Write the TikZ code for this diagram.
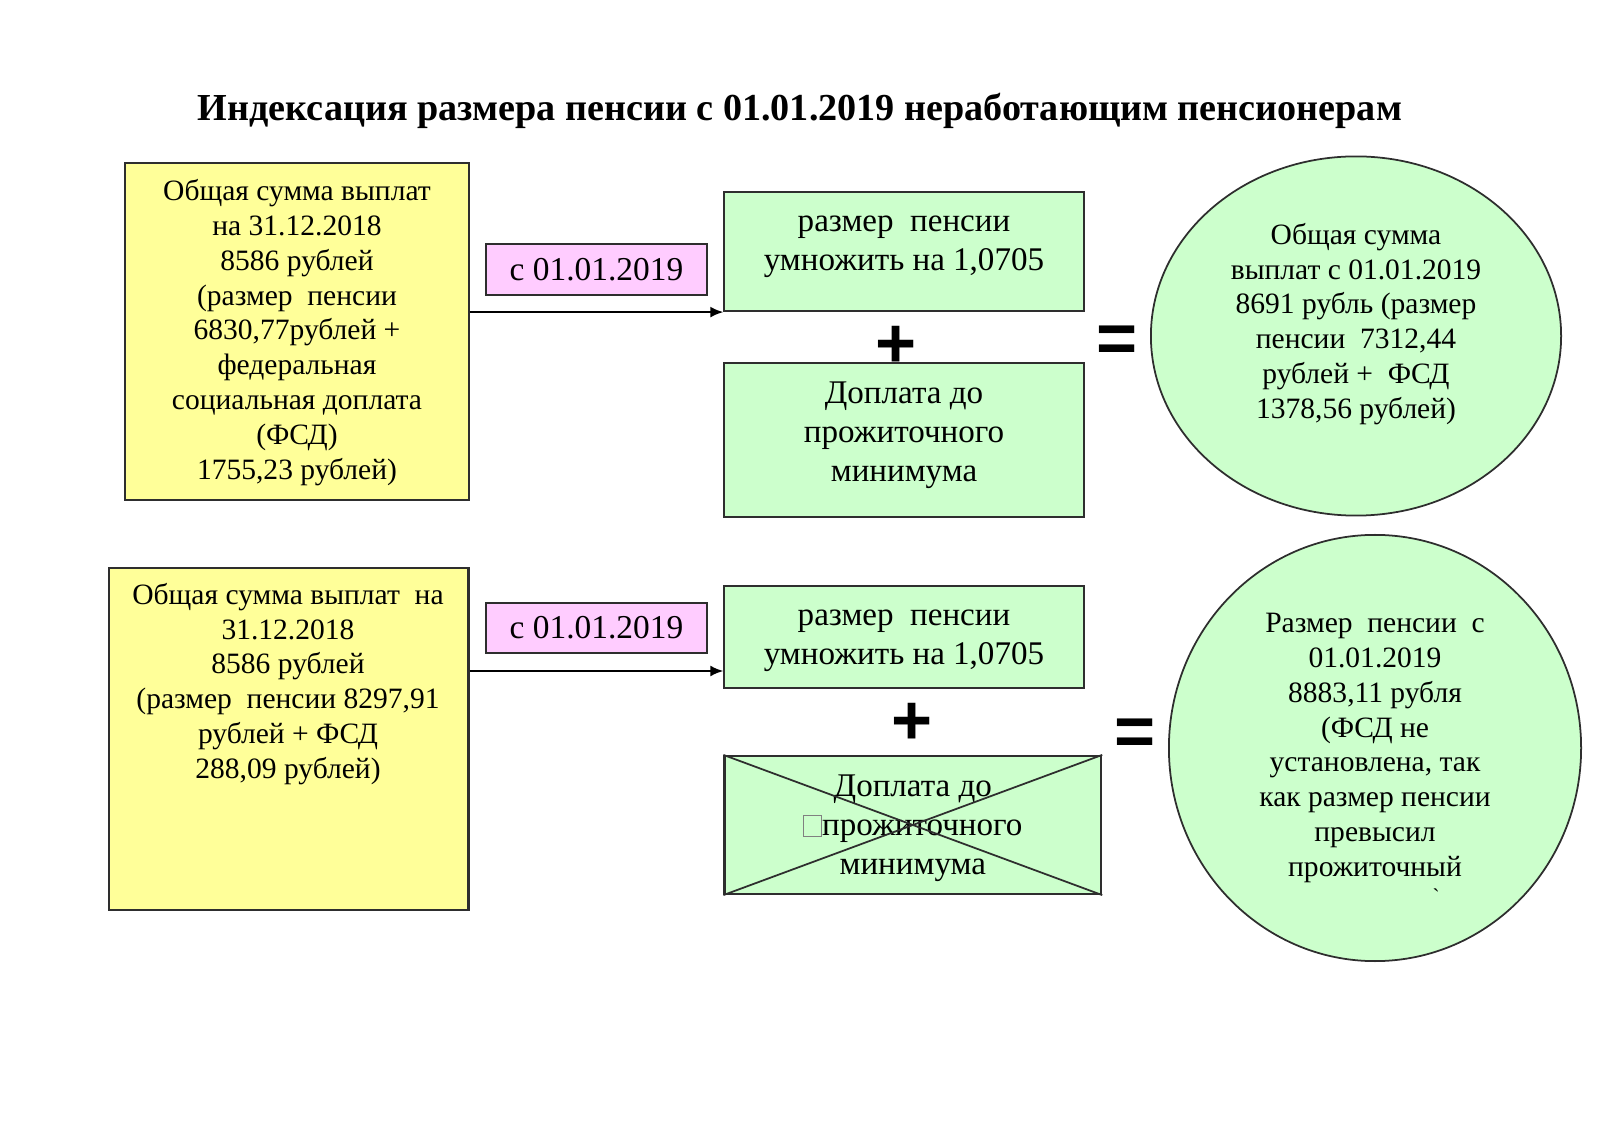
\documentclass[tikz,border=0pt]{standalone}
\usepackage{fontspec}
\setmainfont{Liberation Serif}
\newfontfamily\signfont{Liberation Sans}
\usetikzlibrary{positioning}
\usetikzlibrary{shapes.geometric}
\usetikzlibrary{arrows.meta}
\usepackage{xcolor}
\definecolor{sumyellow}{HTML}{FFFF99}
\definecolor{datepink}{HTML}{FFCCFF}
\definecolor{stepgreen}{HTML}{CCFFCC}
\definecolor{edgegray}{HTML}{2E2E2E}

\tikzset{
  ybox/.style={draw=edgegray, fill=sumyellow, line width=0.6pt, inner sep=0pt},
  pbox/.style={draw=edgegray, fill=datepink, line width=0.6pt, inner sep=0pt},
  gbox/.style={draw=edgegray, fill=stepgreen, line width=0.6pt, inner sep=0pt},
  gell/.style={ellipse, draw=edgegray, fill=stepgreen, line width=0.5pt, inner sep=0pt},
  smalltxt/.style={align=center, inner sep=0pt, font=\fontsize{8.4}{9.9}\selectfont},
  bigtxt/.style={align=center, inner sep=0pt, font=\fontsize{9.4}{11.1}\selectfont},
  signtxt/.style={inner sep=0pt, font=\signfont\bfseries\fontsize{20}{20}\selectfont},
  feed/.style={-{Latex[length=1.3mm,width=1.1mm]}, line width=0.6pt, black}
}

\begin{document}
\begin{tikzpicture}[x=0.01cm, y=-0.01cm]
\useasboundingbox (0,0) rectangle (1600,1131);

\node (title) at (800,111) [font=\bfseries\fontsize{10.85}{13}\selectfont, inner sep=0pt]
{Индексация размера пенсии с 01.01.2019 неработающим пенсионерам};

%first row
\node[ybox, minimum width=3.43cm, minimum height=3.37cm] (sum1) at (297,331.5) {};
\node[smalltxt] (sum1txt) at (297,332.5)
{Общая сумма выплат\\ на 31.12.2018\\ 8586 рублей\\ (размер\ \ пенсии\\ 6830,77рублей +\\ федеральная\\ социальная доплата\\ (ФСД)\\ 1755,23 рублей)};

\node[pbox, minimum width=2.21cm, minimum height=0.51cm] (date1) at (596.5,269.5)
{\fontsize{9.5}{11}\selectfont с 01.01.2019};

\node[gbox, minimum width=3.59cm, minimum height=1.19cm] (mult1) at (904,251.5) {};
\node[bigtxt] (mult1txt) at (904,247) {размер\ \ пенсии\\ умножить на 1,0705};

\node[gbox, minimum width=3.59cm, minimum height=1.54cm] (extra1) at (904,440) {};
\node[bigtxt] (extra1txt) at (904,435) {Доплата до\\ прожиточного\\ минимума};

\node[gell, minimum width=4.1cm, minimum height=3.59cm] (res1) at (1356,336) {};
\node[smalltxt] (res1txt) at (1356,324)
{Общая сумма\\ выплат с 01.01.2019\\ 8691 рубль (размер\\ пенсии\ \ 7312,44\\ рублей +\ \ ФСД\\ 1378,56 рублей)};

\node[signtxt] (plus1) at (896.5,347) {+};
\node[signtxt] (eq1) at (1117.5,344) {=};

\draw[feed] (sum1.east |- mult1.south west) -- (mult1.south west);

%second row
\node[ybox, minimum width=3.594cm, minimum height=3.42cm] (sum2) at (288.7,739) {};
\node[smalltxt] (sum2txt) at (288,684)
{Общая сумма выплат\ \ на\\ 31.12.2018\\ 8586 рублей\\ (размер\ \ пенсии 8297,91\\ рублей + ФСД\\ 288,09 рублей)};

\node[pbox, minimum width=2.21cm, minimum height=0.5cm] (date2) at (596.5,628)
{\fontsize{9.5}{11}\selectfont с 01.01.2019};

\node[gbox, minimum width=3.59cm, minimum height=1.02cm] (mult2) at (904,637) {};
\node[bigtxt] (mult2txt) at (904,641) {размер\ \ пенсии\\ умножить на 1,0705};

\node[gbox, minimum width=3.765cm, minimum height=1.38cm] (extra2) at (912.8,825) {};
\node[bigtxt] (extra2txt) at (912.8,828.5)
{Доплата до\\ {\color{gray}\fboxsep=0pt\fboxrule=0.3pt\fbox{\rule{0pt}{5.6pt}\hspace{4.8pt}}}прожиточного\\ минимума};
%cross
\draw[edgegray, line width=0.5pt] (extra2.north west) -- (extra2.south east);
\draw[edgegray, line width=0.5pt] (extra2.south west) -- (extra2.north east);

\node[gell, minimum width=4.12cm, minimum height=4.26cm] (res2) at (1375,748) {};
\node[smalltxt] (res2txt) at (1375,748)
{Размер\ \ пенсии\ \ с\\ 01.01.2019\\ 8883,11 рубля\\ (ФСД не\\ установлена, так\\ как размер пенсии\\ превысил\\ прожиточный};
\node[inner sep=0pt, font=\fontsize{6}{6}\selectfont] (tick2) at (1436,896) {\textasciigrave};

\node[signtxt] (plus2) at (912,724) {+};
\node[signtxt] (eq2) at (1135,737) {=};

\coordinate (in2) at (mult2.west |- 0,671);
\draw[feed] (sum2.east |- in2) -- (in2);

\end{tikzpicture}
\end{document}
